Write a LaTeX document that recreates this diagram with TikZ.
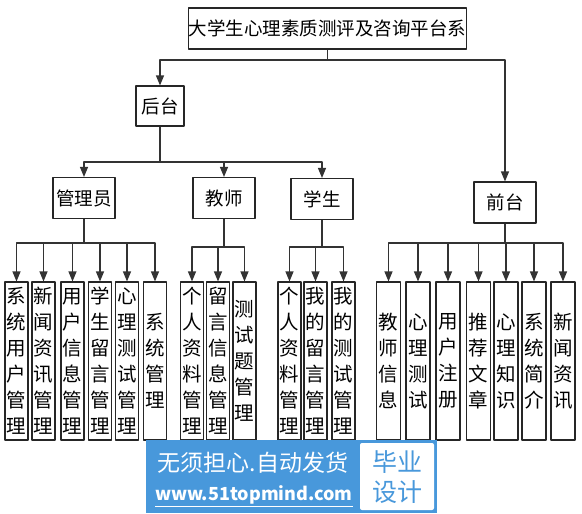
\documentclass[tikz,border=0pt]{standalone}
\usepackage{fontspec}
\setmainfont{Noto Sans CJK SC}
\usetikzlibrary{arrows.meta}
\definecolor{lanse}{RGB}{72,152,219}
\begin{document}
\begin{tikzpicture}[x=1pt,y=-1pt,line join=round,>={Triangle[length=10pt,width=8pt]}]
	\tikzset{kuang/.style={draw=black!85,line width=1.1pt,inner sep=0pt,align=center},
		ye/.style={kuang,minimum width=23pt,minimum height=158pt,font=\fontsize{19.5}{26}\selectfont},
		zhu/.style={kuang,minimum width=62pt,minimum height=41pt,font=\fontsize{18.5}{20}\selectfont},
		xian/.style={draw=black!80,line width=1.2pt}}
	\useasboundingbox (0,0) rectangle (582,514);
	%%% tang cao
	\node[zhu,minimum width=275pt] (xt) at (327.5,28.5) {大学生心理素质测评及咨询平台系};
	\node[zhu,minimum width=48pt,minimum height=40pt] (hou) at (160,106) {后台};
	\node[zhu] (qian) at (505,202.5) {前台};
	\coordinate (b0) at (327.5,60);
	\draw[xian] (xt.south)--(b0);
	\draw[xian,->] (b0)-|(hou.north);
	\draw[xian,->] (b0)-|(qian.north);
	%%% hou tai
	\node[zhu] (gl) at (84,198) {管理员};
	\node[zhu] (js) at (224,198) {教师};
	\node[zhu] (xs) at (322,199) {学生};
	\coordinate (b1) at (160,162);
	\draw[xian] (hou.south)--(b1);
	\foreach \n in {gl,js,xs}
	\draw[xian,->] (b1)-|(\n.north);
	%%% guan li yuan
	\coordinate (ba) at (84,243);
	\draw[xian] (gl.south)--(ba);
	\foreach \x/\t [count=\i] in {16.5/{系\\统\\用\\户\\管\\理},43.5/{新\\闻\\资\\讯\\管\\理},72.5/{用\\户\\信\\息\\管\\理},100/{学\\生\\留\\言\\管\\理},127/{心\\理\\测\\试\\管\\理},155/{系\\统\\管\\理}}{
		\node[ye] (a\i) at (\x,361) {\t};
		\draw[xian,->] (ba)-|(a\i.north);
	}
	%%% jiao shi
	\coordinate (bb) at (224,247);
	\draw[xian] (js.south)--(bb);
	\foreach \x/\t [count=\i] in {192/{个\\人\\资\\料\\管\\理},218/{留\\言\\信\\息\\管\\理},244.5/{测\\试\\题\\管\\理}}{
		\node[ye] (b\i) at (\x,361) {\t};
		\draw[xian,->] (bb)-|(b\i.north);
	}
	%%% xue sheng
	\coordinate (bc) at (322,247);
	\draw[xian] (xs.south)--(bc);
	\foreach \x/\t [count=\i] in {289.5/{个\\人\\资\\料\\管\\理},315.5/{我\\的\\留\\言\\管\\理},343.5/{我\\的\\测\\试\\管\\理}}{
		\node[ye] (c\i) at (\x,361) {\t};
		\draw[xian,->] (bc)-|(c\i.north);
	}
	%%% qian tai
	\coordinate (bd) at (505,243);
	\draw[xian] (qian.south)--(bd);
	\foreach \x/\t [count=\i] in {388.5/{教\\师\\信\\息},418/{心\\理\\测\\试},448/{用\\户\\注\\册},478.5/{推\\荐\\文\\章},506/{心\\理\\知\\识},534/{系\\统\\简\\介},563/{新\\闻\\资\\讯}}{
		\node[ye,minimum width=24pt] (d\i) at (\x,361) {\t};
		\draw[xian,->] (bd)-|(d\i.north);
	}
	%%% shui yin
	\fill[lanse] (146,440) rectangle (437,513);
	\fill[white,rounded corners=2pt] (360,443) rectangle (434,510);
	\node[text=white,font=\fontsize{23}{23}\selectfont] (sy1) at (253,463) {无须担心.自动发货};
	\node[text=white,font=\fontsize{18}{18}\selectfont\bfseries] (sy2) at (254,496) {\underline{www.51topmind.com}};
	\node[text=lanse,font=\fontsize{25}{30}\selectfont,align=center] (sy3) at (397,477) {毕业\\设计};
\end{tikzpicture}
\end{document}
